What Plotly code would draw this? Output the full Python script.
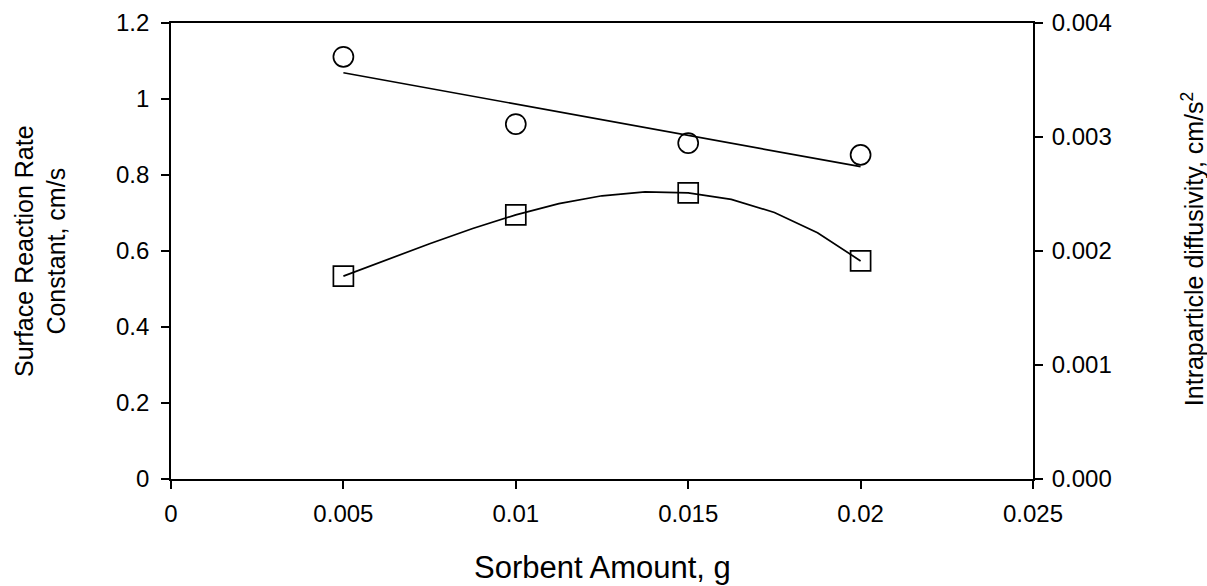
import numpy as np
import plotly.graph_objects as go

sorbent = [0.005, 0.01, 0.015, 0.02]
surface_rate = [1.111, 0.934, 0.884, 0.853]           # cm/s (circles, left axis)
diffusivity = [0.00178, 0.002317, 0.00251, 0.001913]  # cm/s^2 (squares, right axis)

x_ticks = [0, 0.005, 0.01, 0.015, 0.02, 0.025]
x_tick_labels = ["0", "0.005", "0.01", "0.015", "0.02", "0.025"]
y_ticks = [0, 0.2, 0.4, 0.6, 0.8, 1, 1.2]
y_tick_labels = ["0", "0.2", "0.4", "0.6", "0.8", "1", "1.2"]
y2_ticks = [0, 0.001, 0.002, 0.003, 0.004]
y2_tick_labels = ["0.000", "0.001", "0.002", "0.003", "0.004"]

x_title = "Sorbent Amount, g"
y_title = "Surface Reaction Rate<br>Constant, cm/s"
y2_title = "Intraparticle diffusivity, cm/s<sup>2</sup>"

# linear regression for the circles
lin = np.polyfit(sorbent, surface_rate, 1)
xl = np.array([sorbent[0], sorbent[-1]])
# cubic fit for the squares
cub = np.polyfit(sorbent, diffusivity, 3)
xc = np.linspace(sorbent[0], sorbent[-1], 13)

FONT = "Liberation Sans, Arial, sans-serif"
fig = go.Figure()
fig.add_trace(go.Scatter(x=xl, y=np.polyval(lin, xl), mode="lines",
                         line=dict(color="black", width=1.7), showlegend=False))
fig.add_trace(go.Scatter(x=sorbent, y=surface_rate, mode="markers",
                         marker=dict(symbol="circle-open", size=20, color="black",
                                     line=dict(width=1.7, color="black")),
                         showlegend=False))
fig.add_trace(go.Scatter(x=xc, y=np.polyval(cub, xc), mode="lines", yaxis="y2",
                         line=dict(color="black", width=1.7), showlegend=False))
fig.add_trace(go.Scatter(x=sorbent, y=diffusivity, mode="markers", yaxis="y2",
                         marker=dict(symbol="square-open", size=20, color="black",
                                     line=dict(width=1.7, color="black")),
                         showlegend=False))

axis_common = dict(ticks="outside", ticklen=8, tickwidth=1.7, tickcolor="black",
                   showline=True, linecolor="black", linewidth=1.8,
                   showgrid=False, zeroline=False, automargin=False,
                   tickfont=dict(size=24))

fig.update_layout(
    width=1207, height=586,
    margin=dict(l=171, r=174, t=23, b=107),
    paper_bgcolor="white", plot_bgcolor="white",
    font=dict(family=FONT, size=24, color="black"),
    xaxis=dict(range=[0, 0.025], tickvals=x_ticks, ticktext=x_tick_labels,
               mirror=True, ticklabelstandoff=4, **axis_common),
    yaxis=dict(range=[0, 1.2], tickvals=y_ticks, ticktext=y_tick_labels,
               ticklabelstandoff=7, **axis_common),
    yaxis2=dict(range=[0, 0.004], tickvals=y2_ticks, ticktext=y2_tick_labels,
                overlaying="y", side="right", ticklabelstandoff=4, **axis_common),
    annotations=[
        dict(text=x_title, xref="paper", yref="paper", x=0.5, y=-0.193,
             xanchor="center", yanchor="middle", showarrow=False,
             font=dict(size=31)),
        dict(text=y_title, xref="paper", yref="paper", x=-0.152, y=0.5,
             xanchor="center", yanchor="middle", showarrow=False, textangle=-90,
             font=dict(size=25)),
        dict(text=y2_title, xref="paper", yref="paper", x=1.1856, y=0.504,
             xanchor="center", yanchor="middle", showarrow=False, textangle=-90,
             font=dict(size=25)),
    ],
)
fig.write_html("out.html", config={"displayModeBar": False},
               post_script="document.body.style.margin='0';document.body.style.overflow='hidden';")
